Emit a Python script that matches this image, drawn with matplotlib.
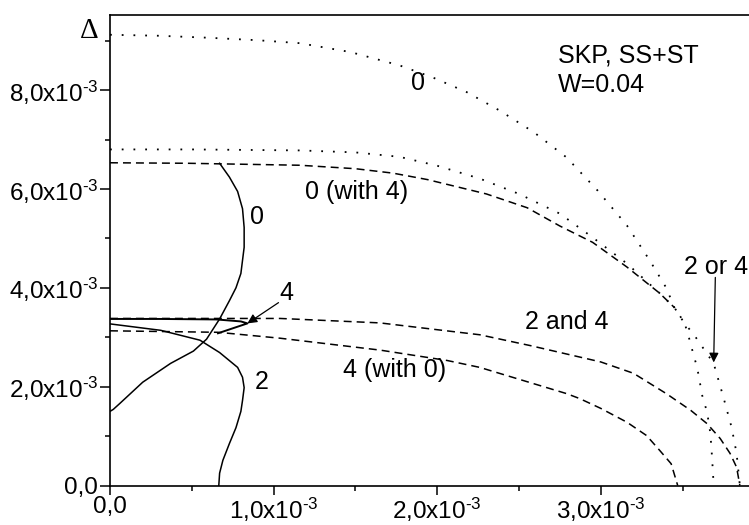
import matplotlib
matplotlib.use("Agg")
import matplotlib.pyplot as plt
import numpy as np

plt.rcParams['font.family'] = ['Liberation Sans', 'DejaVu Sans']
plt.rcParams['mathtext.fontset'] = 'custom'
plt.rcParams['mathtext.rm'] = 'Liberation Sans'
plt.rcParams['mathtext.it'] = 'Liberation Sans:italic'
plt.rcParams['mathtext.bf'] = 'Liberation Sans:bold'

SCALE = 1e-3

# Dotted "0" (top)
dot0_x = [0, 0.3, 0.6, 0.9, 1.16, 1.47, 1.77, 1.97, 2.18, 2.38, 2.59, 2.79, 2.98, 3.16, 3.30, 3.40, 3.45,
          3.51, 3.53, 3.56, 3.59, 3.62, 3.65, 3.67, 3.68, 3.69]
dot0_y = [9.12, 9.10, 9.06, 9.01, 8.95, 8.77, 8.50, 8.26, 7.96, 7.59, 7.15, 6.64, 5.97, 5.26, 4.55, 4.00, 3.60,
          3.30, 3.10, 2.73, 2.37, 1.82, 1.48, 1.05, 0.57, 0.0]

# Dotted "2 or 4"
dot24_x = [0, 0.5, 1.16, 1.50, 1.77, 2.00, 2.26, 2.50, 2.75, 2.95, 3.16, 3.36, 3.45, 3.50, 3.58, 3.69, 3.75, 3.80, 3.83, 3.85]
dot24_y = [6.80, 6.80, 6.78, 6.74, 6.65, 6.47, 6.21, 5.90, 5.50, 5.02, 4.49, 3.89, 3.60, 3.34, 3.00, 2.47, 1.78, 1.17, 0.65, 0.0]

# Dashed "0 (with 4)"
d0w4_x = [0, 0.47, 1.16, 1.50, 1.73, 1.94, 2.30, 2.55, 2.75, 2.95, 3.16, 3.36, 3.45]
d0w4_y = [6.53, 6.52, 6.48, 6.41, 6.32, 6.19, 5.90, 5.62, 5.25, 4.92, 4.42, 3.89, 3.60]

# Dashed "2 and 4"
d24_x = [0, 0.5, 1.04, 1.65, 2.26, 2.57, 2.87, 3.00, 3.20, 3.40, 3.55, 3.65, 3.73, 3.79, 3.83, 3.85]
d24_y = [3.38, 3.38, 3.38, 3.29, 3.05, 2.83, 2.60, 2.50, 2.27, 1.86, 1.52, 1.25, 0.95, 0.65, 0.37, 0.0]

# Dashed "4 (with 0)"
d4w0_x = [0, 0.66, 1.04, 1.65, 2.06, 2.26, 2.46, 2.57, 2.79, 2.87, 3.00, 3.16, 3.28, 3.36, 3.43, 3.47]
d4w0_y = [3.13, 3.10, 2.98, 2.74, 2.53, 2.39, 2.19, 2.08, 1.86, 1.76, 1.56, 1.28, 1.01, 0.71, 0.44, 0.0]

# Solid "0"
s0_x = [0.67, 0.73, 0.78, 0.81, 0.82, 0.82, 0.80, 0.77, 0.73, 0.67, 0.59, 0.51, 0.37, 0.20, 0.06, 0.02, 0.0]
s0_y = [6.52, 6.24, 5.95, 5.60, 5.22, 4.82, 4.29, 4.00, 3.74, 3.37, 2.96, 2.72, 2.47, 2.09, 1.66, 1.54, 1.50]

# Solid "2"
s2_x = [0, 0.31, 0.55, 0.67, 0.78, 0.81, 0.82, 0.81, 0.80, 0.77, 0.73, 0.69, 0.67, 0.665]
s2_y = [3.27, 3.14, 2.94, 2.69, 2.39, 2.19, 1.98, 1.72, 1.50, 1.17, 0.85, 0.51, 0.25, 0.0]

# Solid "4"
s4_x = [0, 0.30, 0.65, 0.80, 0.84, 0.75, 0.66]
s4_y = [3.37, 3.37, 3.36, 3.32, 3.28, 3.18, 3.08]

ytick_vals = [0, 2, 4, 6, 8]
ytick_labels = ['0,0', r'2,0x10$^{\text{-3}}$', r'4,0x10$^{\text{-3}}$', r'6,0x10$^{\text{-3}}$', r'8,0x10$^{\text{-3}}$']
xtick_vals = [0, 1, 2, 3]
xtick_labels = ['0,0', r'1,0x10$^{\text{-3}}$', r'2,0x10$^{\text{-3}}$', r'3,0x10$^{\text{-3}}$']

W, H = 749, 525
fig = plt.figure(figsize=(W / 100, H / 100), dpi=100)
ax_left, ax_bottom_px, ax_top_px = 110, 485.5, 15
ax = fig.add_axes([ax_left / W, (H - ax_bottom_px) / H, 654.4 / W, (ax_bottom_px - ax_top_px) / H])

def s(v):
    return np.array(v) * SCALE

lw = 1.1
dotted = (0, (1, 5.5))
dashed = (0, (5.2, 3.3))
ax.plot(s(dot0_x), s(dot0_y), color='black', lw=1.3, linestyle=dotted)
ax.plot(s(dot24_x), s(dot24_y), color='black', lw=1.3, linestyle=dotted)
ax.plot(s(d0w4_x), s(d0w4_y), color='black', lw=lw, linestyle=dashed)
ax.plot(s(d24_x), s(d24_y), color='black', lw=lw, linestyle=dashed)
ax.plot(s(d4w0_x), s(d4w0_y), color='black', lw=lw, linestyle=dashed)
ax.plot(s(s0_x), s(s0_y), color='black', lw=lw)
ax.plot(s(s2_x), s(s2_y), color='black', lw=lw)
ax.plot(s(s4_x), s(s4_y), color='black', lw=1.4)

ax.set_xlim(0, 4.0e-3)
ax.set_ylim(0, 9.52e-3)

ax.set_yticks(s(ytick_vals))
ax.set_yticklabels(ytick_labels)
ax.set_yticks(s([1, 3, 5, 7, 9]), minor=True)
ax.set_xticks(s(xtick_vals))
ax.set_xticklabels(xtick_labels)
ax.set_xticks(s([0.5, 1.5, 2.5, 3.5]), minor=True)

ax.tick_params(axis='both', which='major', direction='out', length=7, width=1.1, labelsize=17.5)
ax.tick_params(axis='both', which='minor', direction='out', length=3.6, width=1.1)
ax.tick_params(axis='y', which='major', pad=1.5)
ax.tick_params(axis='x', which='major', pad=1.0, length=6.5)
for sp in ax.spines.values():
    sp.set_linewidth(1.2)

fs = 18
ax.text(s(1.88), s(8.14), '0', fontsize=fs, ha='center', va='center')
ax.text(s(1.51), s(5.93), '0 (with 4)', fontsize=fs, ha='center', va='center')
ax.text(s(0.90), s(5.43), '0', fontsize=fs, ha='center', va='center')
ax.text(s(1.076), s(3.89), '4', fontsize=fs, ha='center', va='center')
ax.text(s(0.93), s(2.09), '2', fontsize=fs, ha='center', va='center')
ax.text(s(2.79), s(3.30), '2 and 4', fontsize=fs, ha='center', va='center')
ax.text(s(1.74), s(2.33), '4 (with 0)', fontsize=fs, ha='center', va='center')
ax.text(s(3.51), s(4.43), '2 or 4', fontsize=fs, ha='left', va='center')
ax.text(s(2.74), s(8.70), 'SKP, SS+ST', fontsize=fs, ha='left', va='center')
ax.text(s(2.74), s(8.10), 'W=0.04', fontsize=fs, ha='left', va='center')

arrow = dict(arrowstyle='-|>', lw=0.9, color='black', mutation_scale=14, shrinkA=0, shrinkB=0)
ax.annotate('', xy=(s(0.84), s(3.28)), xytext=(s(1.03), s(3.70)), arrowprops=arrow)
ax.annotate('', xy=(s(3.69), s(2.49)), xytext=(s(3.70), s(4.21)), arrowprops=arrow)

fig.text(89 / W, 1 - 31 / H, '\u0394', fontsize=21, ha='center', va='center',
         family=['Liberation Serif', 'DejaVu Serif'])

fig.savefig('out.png', dpi=100)
